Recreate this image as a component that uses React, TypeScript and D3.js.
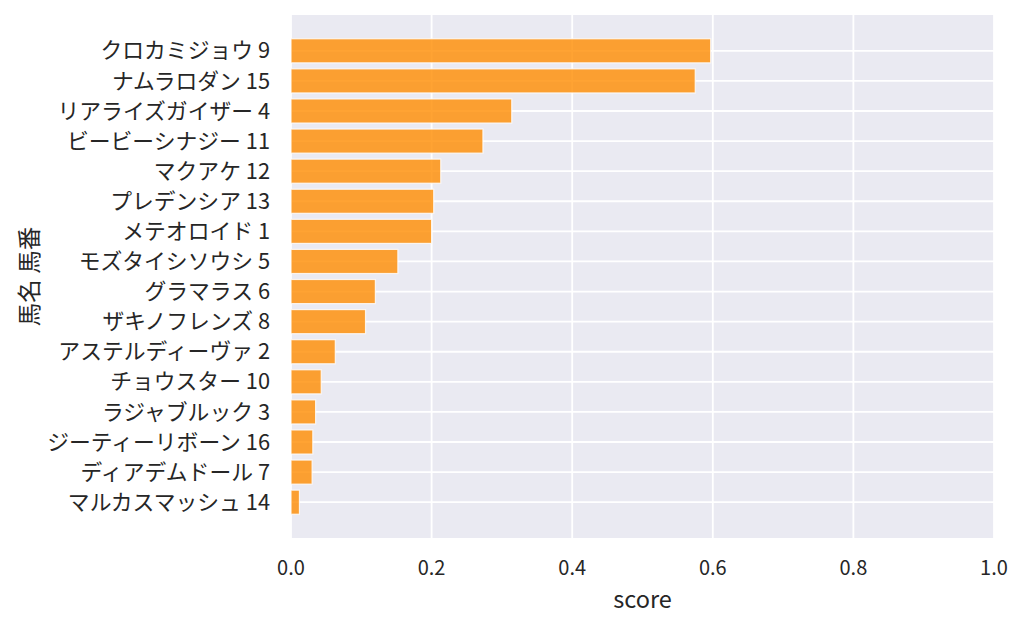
import React from "react";
import * as d3 from "d3";

const horses = [
  "クロカミジョウ 9",
  "ナムラロダン 15",
  "リアライズガイザー 4",
  "ビービーシナジー 11",
  "マクアケ 12",
  "プレデンシア 13",
  "メテオロイド 1",
  "モズタイシソウシ 5",
  "グラマラス 6",
  "ザキノフレンズ 8",
  "アステルディーヴァ 2",
  "チョウスター 10",
  "ラジャブルック 3",
  "ジーティーリボーン 16",
  "ディアデムドール 7",
  "マルカスマッシュ 14",
];

const scores = [
  0.597, 0.575, 0.314, 0.273, 0.213, 0.203, 0.2, 0.152, 0.12, 0.106, 0.063,
  0.043, 0.035, 0.031, 0.03, 0.012,
];

const xTicks = [0, 0.2, 0.4, 0.6, 0.8, 1.0];

const W = 1024;
const H = 627;
const left = 291;
const right = 994;
const top = 15;
const bottom = 538;
const font = "'Noto Sans CJK JP', 'Noto Sans', sans-serif";
const ink = "#262626";

const App: React.FC = () => {
  const x = d3.scaleLinear().domain([0, 1]).range([left, right]);
  // barh with height 0.8 and matplotlib's 5% margins
  const lo = -0.4 - 0.05 * (horses.length - 0.2);
  const hi = horses.length - 0.6 + 0.05 * (horses.length - 0.2);
  const y = d3.scaleLinear().domain([lo, hi]).range([top, bottom]);
  const bh = y(0.8) - y(0);

  return (
    <svg
      width={W}
      height={H}
      style={{ position: "absolute", left: 0, top: 0 }}
      fontFamily={font}
    >
      <rect x={0} y={0} width={W} height={H} fill="#fff" />
      <rect x={left} y={top} width={right - left} height={bottom - top} fill="#eaeaf2" />
      {xTicks.map((t) => (
        <line key={"gx" + t} x1={x(t)} x2={x(t)} y1={top} y2={bottom} stroke="#fff" strokeWidth={1.8} />
      ))}
      {horses.map((h, i) => (
        <line key={"gy" + h} x1={left} x2={right} y1={y(i)} y2={y(i)} stroke="#fff" strokeWidth={1.8} />
      ))}
      {horses.map((h, i) => (
        <rect
          key={"b" + h}
          x={x(0)}
          y={y(i) - bh / 2}
          width={x(scores[i]) - x(0)}
          height={bh}
          fill="darkorange"
          fillOpacity={0.8}
          stroke="#fff"
          strokeOpacity={0.8}
          strokeWidth={1.2}
        />
      ))}
      {horses.map((h, i) => (
        <text
          key={"l" + h}
          x={left - 21}
          y={y(i)}
          dy="0.35em"
          textAnchor="end"
          fontSize={21.8}
          fill={ink}
        >
          {h}
        </text>
      ))}
      {xTicks.map((t) => (
        <text
          key={"tx" + t}
          x={x(t)}
          y={bottom + 30}
          dy="0.35em"
          textAnchor="middle"
          fontSize={20}
          fill={ink}
        >
          {d3.format(".1f")(t)}
        </text>
      ))}
      <text
        x={(left + right) / 2}
        y={600}
        dy="0.35em"
        textAnchor="middle"
        fontSize={23.5}
        fill={ink}
      >
        score
      </text>
      <text
        transform={`translate(30,${(top + bottom) / 2}) rotate(-90)`}
        dy="0.35em"
        textAnchor="middle"
        fontSize={23.5}
        fill={ink}
      >
        馬名 馬番
      </text>
    </svg>
  );
};

export default App;
